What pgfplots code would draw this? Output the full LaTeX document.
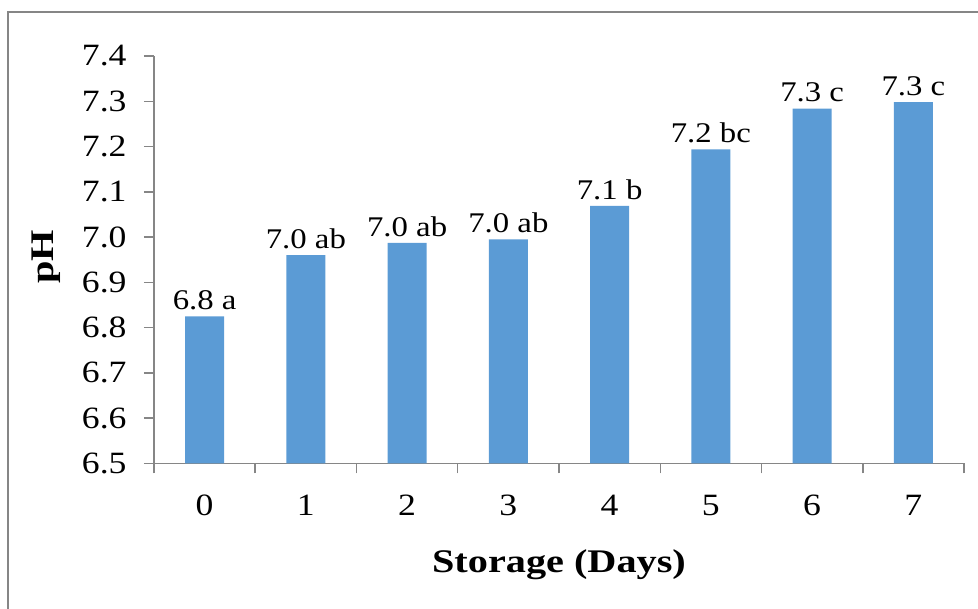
\documentclass[border=0pt]{standalone}
\usepackage{fontspec}
\setmainfont{Liberation Serif}[FakeStretch=1.15]
\newfontfamily\labfont{Liberation Serif}[FakeStretch=1.22]
\usepackage{pgfplots}
\pgfplotsset{compat=1.18}
\definecolor{barblue}{HTML}{5B9BD5}
\definecolor{axgray}{HTML}{868686}
\begin{document}
\begin{tikzpicture}
\useasboundingbox (-154pt,-145.5pt) rectangle (824pt,463.5pt);
% outer chart frame, cut by the image edge on the right and bottom
\draw[axgray, line width=2pt] (-146pt,-170pt) rectangle (850pt,451.5pt);
\begin{axis}[
  at={(0pt,0pt)}, anchor=south west,
  scale only axis, width=810pt, height=407.5pt,
  ybar, bar width=39pt,
  xmin=-0.5, xmax=7.5, ymin=6.5, ymax=7.4,
  axis x line*=bottom, axis y line*=left,
  axis line style={axgray, line width=1.5pt},
  tick align=outside,
  major tick length=10pt,
  tick style={axgray, line width=1.5pt},
  xtick={-0.5,0.5,1.5,2.5,3.5,4.5,5.5,6.5,7.5},
  xticklabels={},
  extra x ticks={0,1,2,3,4,5,6,7},
  extra x tick style={major tick length=0pt},
  ytick={6.5,6.6,6.7,6.8,6.9,7.0,7.1,7.2,7.3,7.4},
  yticklabel style={/pgf/number format/fixed, /pgf/number format/fixed zerofill,
    /pgf/number format/precision=1},
  /pgf/number format/assume math mode=true,
  tick label style={font=\fontsize{31}{31}\selectfont, text=black},
  xticklabel style={anchor=base, yshift=-52.5pt},
  yticklabel style={anchor=east, inner sep=0pt, xshift=-17.3pt},
  xlabel={\labfont\bfseries Storage (Days)},
  xlabel style={at={(axis description cs:0.5,-0.2687)}, anchor=base,
    font=\fontsize{33}{33}\selectfont},
  ylabel={\labfont\bfseries pH},
  ylabel style={at={(axis description cs:-0.1327,0.5075)}, anchor=center,
    font=\fontsize{33}{33}\selectfont},
]
\addplot[fill=barblue, draw=none, point meta=explicit symbolic,
  nodes near coords,
  nodes near coords style={anchor=base, inner sep=0pt, yshift=6.7pt,
    font=\fontsize{28.5}{28.5}\selectfont, text=black}]
coordinates {
  (0,6.825) [6.8 a]
  (1,6.960) [7.0 ab]
  (2,6.987) [7.0 ab]
  (3,6.995) [7.0 ab]
  (4,7.069) [7.1 b]
  (5,7.194) [7.2 bc]
  (6,7.284) [7.3 c]
  (7,7.298) [7.3 c]
};
\end{axis}
\end{tikzpicture}
\end{document}
